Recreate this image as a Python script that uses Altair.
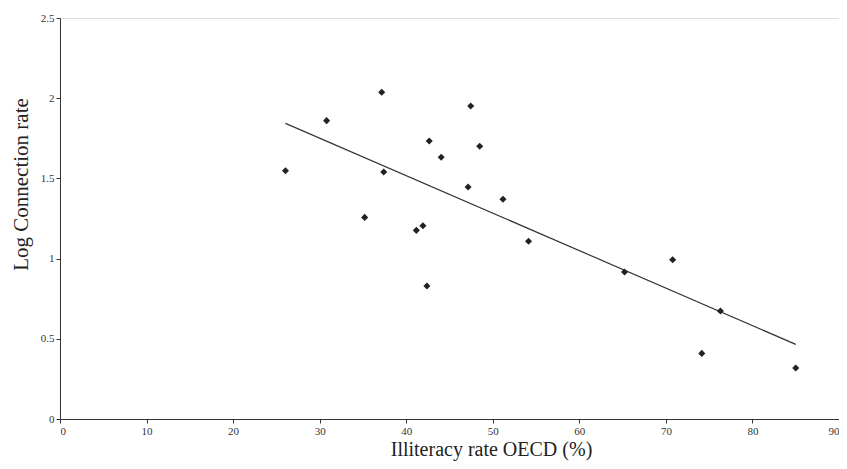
import altair as alt
import pandas as pd

illiteracy = [26.05, 30.8, 37.17, 37.4, 35.2, 41.17, 41.93, 42.39, 42.66, 44.04,
              47.15, 47.45, 48.49, 51.18, 54.13, 65.22, 70.78, 74.15, 76.3, 85.0]
log_conn = [1.548, 1.86, 2.037, 1.54, 1.257, 1.176, 1.205, 0.829, 1.733, 1.632,
            1.446, 1.951, 1.700, 1.370, 1.108, 0.916, 0.993, 0.409, 0.673, 0.318]

df = pd.DataFrame({"x": illiteracy, "y": log_conn})

FONT = "Liberation Serif"

x_enc = alt.X("x:Q", scale=alt.Scale(domain=[0, 90], nice=False, zero=True),
              axis=alt.Axis(title="Illiteracy rate OECD (%)", values=list(range(0, 91, 10)),
                            format="~g",
                            grid=False, domainColor="#333", tickColor="#333", tickSize=4,
                            labelFont=FONT, labelFontSize=11, labelColor="#333",
                            titleFont=FONT, titleFontSize=20, titleFontWeight="normal",
                            titleColor="#222", titleX=431, titleY=36,
                            titleAlign="center", titleBaseline="alphabetic",
                            labelPadding=2))
y_enc = alt.Y("y:Q", scale=alt.Scale(domain=[0, 2.5], nice=False),
              axis=alt.Axis(title="Log Connection rate", values=[0, 0.5, 1, 1.5, 2, 2.5],
                            format="~g",
                            grid=False, domainColor="#333", tickColor="#333", tickSize=4,
                            labelFont=FONT, labelFontSize=11, labelColor="#333",
                            titleFont=FONT, titleFontSize=21, titleFontWeight="normal",
                            titleColor="#222", titleX=-33, titleY=166, titleAngle=270,
                            titleAlign="center", titleBaseline="alphabetic",
                            labelPadding=2))

points = alt.Chart(df).mark_point(shape="diamond", filled=True, size=50,
                                  color="#222", opacity=1).encode(x=x_enc, y=y_enc)

trend = alt.Chart(df).transform_regression("x", "y").mark_line(
    color="#333", strokeWidth=1.2).encode(x="x:Q", y="y:Q")

chart = (trend + points).properties(
    width=779, height=401,
    autosize=alt.AutoSizeParams(type="none"),
    padding={"left": 52, "top": 10, "right": 0, "bottom": 42},
).configure_view(stroke="#bbbbbb", strokeWidth=1.5).configure(background="white")

chart.save("out.html", embed_options={"renderer": "svg", "actions": False})
